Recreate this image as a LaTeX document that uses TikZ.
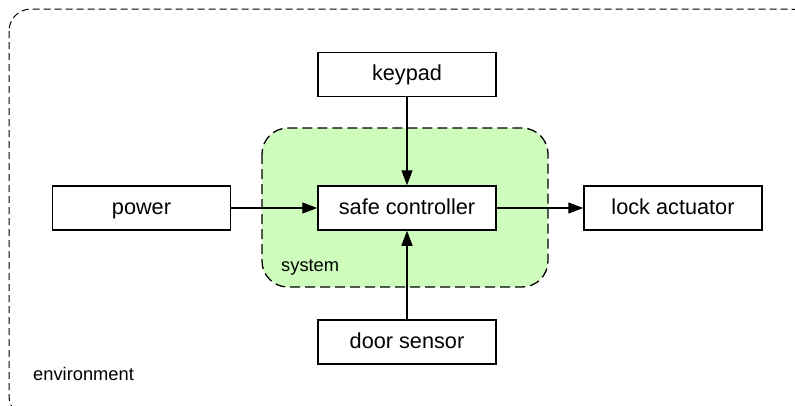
\documentclass[tikz,border=0pt]{standalone}
\usepackage{fontspec}
\setmainfont{Liberation Sans}
\usetikzlibrary{arrows.meta}
\definecolor{sysgreen}{RGB}{206,252,188}
\tikzset{
  block/.style={draw=black, line width=1.5pt, fill=white, minimum width=178pt,
    minimum height=44pt, inner sep=0pt, text height=16.5pt, text depth=4pt,
    font=\fontsize{21.7}{25}\selectfont},
  flow/.style={line width=1.3pt, -{Triangle[length=15pt,width=11pt]}},
  tag/.style={anchor=base west, inner sep=0pt, font=\fontsize{18.3}{22}\selectfont}
}
\begin{document}
\begin{tikzpicture}[x=1pt,y=-1pt]
  \useasboundingbox (0,0) rectangle (795,405);
  \begin{scope}
    \clip (0,0) rectangle (795,405);
    % environment boundary (runs past the page edge on the right and bottom)
    \draw[line width=1pt, dash pattern=on 7pt off 4pt, rounded corners=22pt]
      (9,9) rectangle (812,418);
  \end{scope}
  % system boundary
  \draw[line width=1.3pt, dash pattern=on 10pt off 5pt, fill=sysgreen, rounded corners=26pt]
    (262,128) rectangle (548,287);
  \node[tag] (sys) at (281,271) {system};
  \node[tag] (env) at (33,380) {environment};
  % components
  \node[block] (ctrl) at (407,208) {safe controller};
  \node[block] (keypad) at (407,74.5) {keypad};
  \node[block] (power) at (141.5,208) {power};
  \node[block] (lock) at (673,208) {lock actuator};
  \node[block] (door) at (407,342) {door sensor};
  % signal flows
  \draw[flow] (power) -- (ctrl);
  \draw[flow] (keypad) -- (ctrl);
  \draw[flow] (door) -- (ctrl);
  \draw[flow] (ctrl) -- (lock);
\end{tikzpicture}
\end{document}
